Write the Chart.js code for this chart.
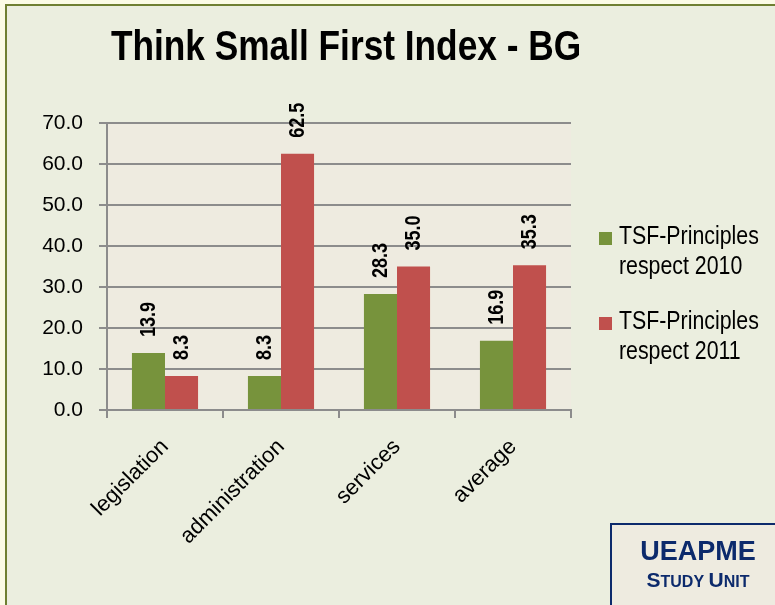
<!DOCTYPE html>
<html>
<head>
<meta charset="utf-8">
<script src="https://cdn.jsdelivr.net/npm/chart.js@4"></script>
<style>
  html, body { margin: 0; padding: 0; background: #fbfbe6; }
  canvas { display: block; }
</style>
</head>
<body>
<canvas id="myChart" width="775" height="605"></canvas>
<script>
var ctx = document.getElementById('myChart');

const categories = ['legislation', 'administration', 'services', 'average'];
const values2010 = [13.9, 8.3, 28.3, 16.9];
const values2011 = [8.3, 62.5, 35.0, 35.3];
const yTicks = [0, 10, 20, 30, 40, 50, 60, 70];
const seriesNames = [['TSF-Principles', 'respect 2010'], ['TSF-Principles', 'respect 2011']];
const chartTitle = 'Think Small First Index - BG';

const SANS = '"Liberation Sans", Arial, sans-serif';
const NARROW = 0.82; // squeeze Liberation Sans to look like Arial Narrow

// write text squeezed horizontally around its anchor
function narrowText(c, txt, x, y) {
  c.save();
  c.translate(x, y);
  c.scale(NARROW, 1);
  c.fillText(txt, 0, 0);
  c.restore();
}

// background, title, value labels, legend and the logo box
const decor = {
  id: 'decor',
  beforeDraw(chart) {
    const c = chart.ctx;
    const area = chart.chartArea;
    c.save();
    c.fillStyle = '#fbfbe6';
    c.fillRect(0, 0, chart.width, chart.height);
    c.fillStyle = '#ebeedf';
    c.fillRect(6, 5, chart.width, chart.height);
    c.strokeStyle = '#6f7f32';
    c.lineWidth = 2;
    c.strokeRect(6, 5, chart.width + 10, chart.height + 10);
    c.fillStyle = '#eeebe0';
    c.fillRect(area.left, area.top, area.right - area.left, area.bottom - area.top);
    c.restore();
  },
  afterDatasetsDraw(chart) {
    const c = chart.ctx;
    c.save();
    // value labels, rotated
    c.fillStyle = '#000';
    c.font = 'bold 22px ' + SANS;
    c.textAlign = 'left';
    c.textBaseline = 'middle';
    chart.data.datasets.forEach((ds, i) => {
      chart.getDatasetMeta(i).data.forEach((bar, j) => {
        c.save();
        c.translate(bar.x, bar.y - 16);
        c.rotate(-Math.PI / 2);
        narrowText(c, ds.data[j].toFixed(1), 0, 0);
        c.restore();
      });
    });

    // title
    c.font = 'bold 43px ' + SANS;
    c.textAlign = 'center';
    c.textBaseline = 'alphabetic';
    narrowText(c, chartTitle, 346, 60);

    // legend
    c.textAlign = 'left';
    c.font = '26px ' + SANS;
    chart.data.datasets.forEach((ds, i) => {
      const y0 = 232 + i * 85;
      c.fillStyle = ds.backgroundColor;
      c.fillRect(599, y0, 13, 13);
      c.fillStyle = '#000';
      seriesNames[i].forEach((line, k) => {
        narrowText(c, line, 619, y0 + 12 + k * 30);
      });
    });

    // UEAPME box
    c.fillStyle = '#eeebe0';
    c.fillRect(611, 524, 200, 100);
    c.strokeStyle = '#0c2a6c';
    c.lineWidth = 2;
    c.strokeRect(611, 524, 200, 100);
    c.fillStyle = '#0c2a6c';
    c.textAlign = 'center';
    c.font = 'bold 27px ' + SANS;
    c.fillText('UEAPME', 698, 560);
    // small caps: STUDY UNIT
    const parts = [['S', 21], ['TUDY ', 16], ['U', 21], ['NIT', 16]];
    let total = 0;
    parts.forEach(p => {
      c.font = 'bold ' + p[1] + 'px ' + SANS;
      total += c.measureText(p[0]).width;
    });
    let x = 698 - total / 2;
    c.textAlign = 'left';
    parts.forEach(p => {
      c.font = 'bold ' + p[1] + 'px ' + SANS;
      c.fillText(p[0], x, 587);
      x += c.measureText(p[0]).width;
    });
    c.restore();
  }
};

var myChart = new Chart(ctx, {
  type: 'bar',
  data: {
    labels: categories,
    datasets: [{
      label: seriesNames[0].join(' '),
      data: values2010,
      backgroundColor: '#77933c',
      categoryPercentage: 0.57,
      barPercentage: 1.0
    }, {
      label: seriesNames[1].join(' '),
      data: values2011,
      backgroundColor: '#c0504d',
      categoryPercentage: 0.57,
      barPercentage: 1.0
    }]
  },
  options: {
    responsive: false,
    animation: false,
    layout: {
      padding: { top: 123, right: 204, left: 0, bottom: 0 }
    },
    scales: {
      x: {
        afterFit: function(scale) { scale.height = 195; },
        grid: {
          display: true,
          drawOnChartArea: false,
          offset: true,
          tickLength: 8,
          color: '#8c8c8c',
          lineWidth: 2
        },
        border: { display: true, color: '#8c8c8c', width: 2 },
        ticks: {
          minRotation: 45,
          maxRotation: 45,
          padding: 16,
          color: '#000',
          font: { family: SANS, size: 22 }
        }
      },
      y: {
        min: 0,
        max: 70,
        afterFit: function(scale) { scale.width = 107; },
        afterBuildTicks: function(scale) {
          scale.ticks = yTicks.map(v => ({ value: v }));
        },
        grid: {
          color: '#8c8c8c',
          lineWidth: 2,
          tickLength: 8
        },
        border: { display: true, color: '#8c8c8c', width: 2 },
        ticks: {
          padding: 16,
          color: '#000',
          font: { family: SANS, size: 21 },
          callback: function(v) { return Number(v).toFixed(1); }
        }
      }
    },
    plugins: {
      legend: { display: false },
      tooltip: { enabled: false }
    }
  },
  plugins: [decor]
});
</script>
</body>
</html>
